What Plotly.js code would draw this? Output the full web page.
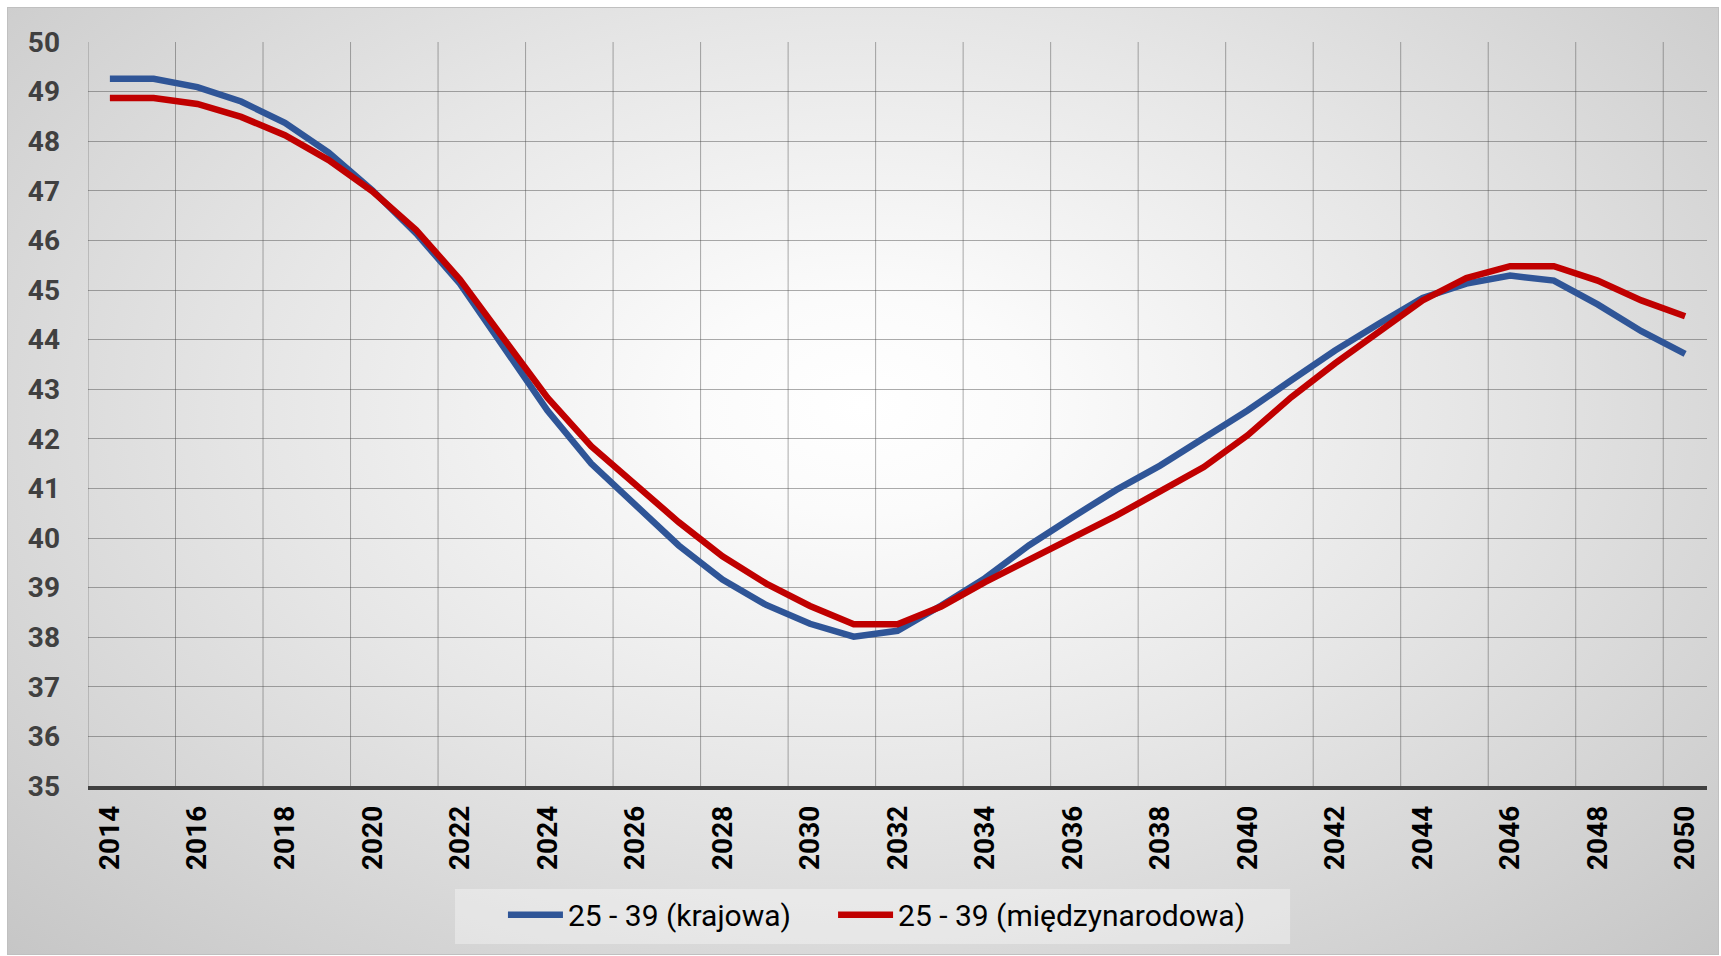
<!DOCTYPE html>
<html>
<head>
<meta charset="utf-8">
<script src="https://cdn.plot.ly/plotly-3.0.1.min.js"></script>
<style>
  html, body { margin: 0; padding: 0; background: #ffffff; overflow: hidden; }
  #bg {
    position: absolute; left: 7px; top: 7px; width: 1712px; height: 948px;
    border: 1px solid #c0c0c0; box-sizing: border-box;
    background: radial-gradient(ellipse farthest-corner at 50% 42%, #ffffff 0%, #fbfbfb 14%, #e6e6e6 50%, #c6c6c6 100%);
  }
  #chart { position: absolute; left: 0; top: 0; width: 1721px; height: 956px; }
</style>
</head>
<body>
<div id="bg"></div>
<div id="chart"></div>
<script>
const years = [2014, 2015, 2016, 2017, 2018, 2019, 2020, 2021, 2022, 2023, 2024, 2025, 2026,
  2027, 2028, 2029, 2030, 2031, 2032, 2033, 2034, 2035, 2036, 2037, 2038, 2039, 2040,
  2041, 2042, 2043, 2044, 2045, 2046, 2047, 2048, 2049, 2050];

const krajowa = [49.26, 49.26, 49.09, 48.80, 48.37, 47.77, 47.01, 46.14, 45.13, 43.84,
  42.57, 41.50, 40.66, 39.85, 39.16, 38.65, 38.27, 38.01, 38.13, 38.64,
  39.19, 39.85, 40.42, 40.97, 41.46, 42.02, 42.57, 43.18, 43.78, 44.32,
  44.84, 45.13, 45.29, 45.19, 44.71, 44.17, 43.71];

const miedzynarodowa = [48.87, 48.87, 48.75, 48.49, 48.12, 47.62, 46.99, 46.21, 45.21, 44.03,
  42.83, 41.85, 41.09, 40.32, 39.63, 39.08, 38.63, 38.26, 38.26, 38.62,
  39.11, 39.56, 39.98, 40.45, 40.94, 41.43, 42.07, 42.84, 43.52, 44.15,
  44.79, 45.24, 45.48, 45.48, 45.19, 44.79, 44.47];

const seriesNames = ['25 - 39 (krajowa)', '25 - 39 (międzynarodowa)'];

// Labelled years and category boundaries (vertical grid)
const tickYears = [2014, 2016, 2018, 2020, 2022, 2024, 2026, 2028, 2030,
  2032, 2034, 2036, 2038, 2040, 2042, 2044, 2046, 2048, 2050];
const gridVals = [2013.5, 2015.5, 2017.5, 2019.5, 2021.5, 2023.5, 2025.5, 2027.5, 2029.5,
  2031.5, 2033.5, 2035.5, 2037.5, 2039.5, 2041.5, 2043.5, 2045.5, 2047.5, 2049.5];
const yTicks = [35, 36, 37, 38, 39, 40, 41, 42, 43, 44, 45, 46, 47, 48, 49, 50];

const gridColor = 'rgba(70,70,70,0.45)';

const traces = [
  { x: years, y: krajowa, name: seriesNames[0], type: 'scatter', mode: 'lines',
    legend: 'legend', line: { color: '#2F5597', width: 6.5 } },
  { x: years, y: miedzynarodowa, name: seriesNames[1], type: 'scatter', mode: 'lines',
    legend: 'legend2', line: { color: '#C00000', width: 6.5 } }
];

const shapes = gridVals.map(g => ({
  type: 'line', xref: 'x', yref: 'paper', x0: g, x1: g, y0: 0, y1: 1,
  layer: 'below', line: { color: gridColor, width: 1 }
}));
shapes.push({ type: 'rect', xref: 'paper', yref: 'paper', layer: 'below',
  x0: 0.2267, x1: 0.7425, y0: -0.2124, y1: -0.1384,
  fillcolor: 'rgba(255,255,255,0.35)', line: { width: 0 } });

const legendFont = { family: 'Roboto', size: 30, color: '#000000' };

const layout = {
  width: 1721, height: 956,
  paper_bgcolor: 'rgba(0,0,0,0)',
  plot_bgcolor: 'rgba(0,0,0,0)',
  margin: { l: 88, r: 14, t: 42, b: 170, pad: 0 },
  showlegend: true,
  xaxis: {
    range: [2013.5, 2050.5],
    tickmode: 'array', tickvals: tickYears, ticktext: tickYears.map(String),
    tickangle: -90,
    ticks: '',
    ticklabelstandoff: 5,
    showgrid: false,
    showline: true, linecolor: '#404040', linewidth: 3.5,
    zeroline: false,
    tickfont: { family: 'Roboto', size: 28, weight: 'bold', color: '#000000' }
  },
  yaxis: {
    range: [35, 50],
    tickmode: 'array', tickvals: yTicks,
    ticks: '',
    ticklabelstandoff: 27,
    showgrid: true, gridcolor: gridColor, gridwidth: 1,
    showline: false, zeroline: false,
    tickfont: { family: 'Roboto', size: 28, weight: 'bold', color: '#404040' }
  },
  legend: {
    orientation: 'h', x: 0.2563, xanchor: 'left', y: -0.173, yanchor: 'middle',
    bgcolor: 'rgba(0,0,0,0)', itemwidth: 55, font: legendFont
  },
  legend2: {
    orientation: 'h', x: 0.4602, xanchor: 'left', y: -0.173, yanchor: 'middle',
    bgcolor: 'rgba(0,0,0,0)', itemwidth: 55, font: legendFont
  },
  shapes: shapes
};

Plotly.newPlot('chart', traces, layout, { displayModeBar: false, staticPlot: true });
</script>
</body>
</html>
